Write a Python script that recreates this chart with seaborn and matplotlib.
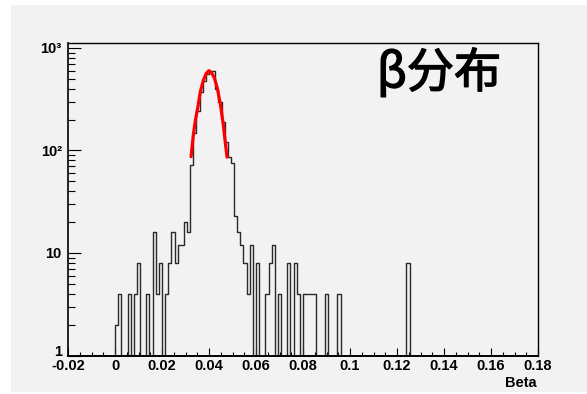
import numpy as np
import pandas as pd
import matplotlib
matplotlib.use("Agg")
import matplotlib.pyplot as plt
import matplotlib.patheffects as pe
import seaborn as sns
from matplotlib.patches import Rectangle
from matplotlib.ticker import MultipleLocator, LogLocator, NullFormatter

# ---------------- data ----------------
hist_range = (-0.02, 0.18)
n_bins = 150
first_bin_low = 0.0          # first listed bin starts at Beta = 0
bin_counts = [
    2, 4, 0, 0, 4, 0, 4, 8, 0, 0,
    4, 0, 16, 4, 8, 0, 4, 8, 16, 8,
    12, 12, 20, 16, 72, 147, 243, 370, 480, 560,
    600, 590, 400, 300, 190, 120, 87, 76, 23, 16,
    12, 8, 4, 12, 0, 8, 0, 0, 4, 8,
    12, 0, 4, 0, 0, 8, 0, 8, 4, 0,
    4, 4, 4, 4, 0, 0, 0, 4, 0, 0,
    0, 4, 0, 0, 0, 0, 0, 0, 0, 0,
    0, 0, 0, 0, 0, 0, 0, 0, 0, 0,
    0, 0, 0, 8,
]

fit_x = [0.03237, 0.03330, 0.03416, 0.03522, 0.03629, 0.03757, 0.03885,
         0.03991, 0.04098, 0.04226, 0.04354, 0.04482, 0.04610, 0.04695, 0.04768]
fit_y = [87, 140, 194, 262, 372, 482, 566, 600, 578, 512, 405, 284, 178, 118, 86]

x_ticks = [-0.02, 0.0, 0.02, 0.04, 0.06, 0.08, 0.10, 0.12, 0.14, 0.16, 0.18]
x_tick_labels = ["-0.02", "0", "0.02", "0.04", "0.06", "0.08", "0.1",
                 "0.12", "0.14", "0.16", "0.18"]
y_ticks = [1, 10, 100, 1000]
y_tick_labels = ["1", "10", "10²", "10³"]
title_text = "β分布"
x_label = "Beta"

# ---------------- style ----------------
sns.set_theme(style="ticks")
plt.rcParams["font.family"] = ["Liberation Sans", "DejaVu Sans"]

W, H = 587, 394
fig = plt.figure(figsize=(W / 100, H / 100), dpi=100)
fig.patch.set_facecolor("white")
fig.patches.append(Rectangle((11 / W, 1 - 392 / H), (W - 11) / W, (392 - 5) / H,
                             transform=fig.transFigure, facecolor="#f2f2f2",
                             edgecolor="none", zorder=-10))

ax = fig.add_axes([68 / W, 1 - 355.5 / H, (538 - 68) / W, (355.5 - 42.7) / H])
ax.set_facecolor("#f2f2f2")

width = (hist_range[1] - hist_range[0]) / n_bins
centers = first_bin_low + (np.arange(len(bin_counts)) + 0.5) * width
hist_df = pd.DataFrame({"Beta": centers, "count": bin_counts})

sns.histplot(data=hist_df, x="Beta", weights="count", bins=n_bins,
             binrange=hist_range, element="step", fill=False,
             color="#2a2a2a", linewidth=1.0, ax=ax)
ax.set_yscale("log")

fit_df = pd.DataFrame({"Beta": fit_x, "value": fit_y})
sns.lineplot(data=fit_df, x="Beta", y="value", color="#ff0000",
             linewidth=2.3, ax=ax, zorder=5)

ax.set_xlim(*hist_range)
ax.set_ylim(1, 1125)
ax.set_xlabel("")
ax.set_ylabel("")

ax.set_xticks(x_ticks, labels=x_tick_labels)
ax.xaxis.set_minor_locator(MultipleLocator(0.005))
ax.set_yticks(y_ticks, labels=y_tick_labels)
ax.yaxis.set_minor_locator(LogLocator(base=10, subs=np.arange(2, 10)))
ax.yaxis.set_minor_formatter(NullFormatter())

ax.tick_params(which="both", direction="in", top=False, right=False, color="black")
ax.tick_params(axis="x", which="major", length=5.5, width=0.8, labelsize=10.5, pad=2.5)
ax.tick_params(axis="x", which="minor", length=2.8, width=0.8)
ax.tick_params(axis="y", which="major", length=9.5, width=0.8, labelsize=10.5, pad=4.5)
ax.tick_params(axis="y", which="minor", length=5, width=0.8)
for lab in ax.get_xticklabels() + ax.get_yticklabels():
    lab.set_fontweight("bold")
    lab.set_color("black")
# the "1" label sits on its baseline at the axis bottom, as in the reference
ax.get_yticklabels()[0].set_verticalalignment("baseline")

for s in ax.spines.values():
    s.set_visible(True)
    s.set_color("black")
    s.set_linewidth(1.0)
ax.spines["bottom"].set_linewidth(1.4)
ax.spines["left"].set_linewidth(1.2)

fig.text(537 / W, 1 - 383 / H, x_label, ha="right", va="center",
         fontweight="bold", fontsize=10.5, color="black")
fig.text(377 / W, 1 - 74 / H, title_text, ha="left", va="center", fontsize=34,
         family=["Noto Sans CJK SC", "DejaVu Sans"], color="black",
         path_effects=[pe.withStroke(linewidth=1.0, foreground="black")])

fig.savefig("out.png", dpi=100)
